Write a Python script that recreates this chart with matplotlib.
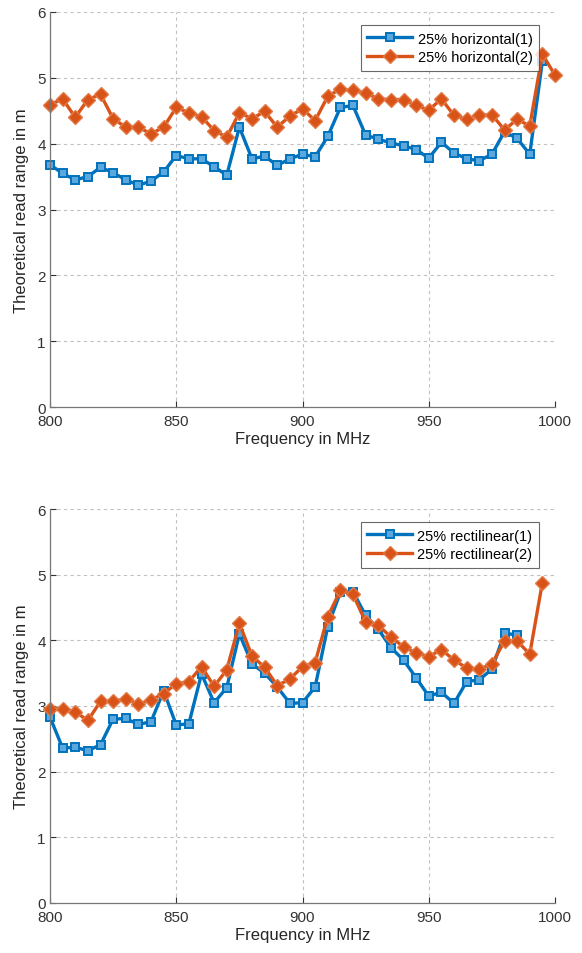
import numpy as np
import matplotlib
matplotlib.use("Agg")
import matplotlib.pyplot as plt

plt.rcParams['font.family'] = ['Liberation Sans', 'DejaVu Sans']

freq_top = list(range(800, 1001, 5))
h1 = [3.68, 3.55, 3.45, 3.50, 3.64, 3.56, 3.45, 3.37, 3.43, 3.57,
      3.82, 3.77, 3.77, 3.65, 3.52, 4.25, 3.77, 3.81, 3.67, 3.77,
      3.84, 3.80, 4.11, 4.55, 4.58, 4.13, 4.07, 4.01, 3.97, 3.91,
      3.78, 4.02, 3.86, 3.77, 3.74, 3.84, 4.18, 4.08, 3.84, 5.25]
h2 = [4.59, 4.68, 4.40, 4.67, 4.75, 4.38, 4.25, 4.25, 4.15, 4.25,
      4.55, 4.47, 4.41, 4.20, 4.10, 4.47, 4.38, 4.49, 4.25, 4.42,
      4.53, 4.35, 4.72, 4.83, 4.81, 4.77, 4.68, 4.67, 4.67, 4.58,
      4.51, 4.68, 4.43, 4.37, 4.43, 4.44, 4.21, 4.37, 4.27, 5.36, 5.04]

r1 = [2.83, 2.36, 2.37, 2.32, 2.41, 2.80, 2.81, 2.72, 2.76, 3.23,
      2.71, 2.73, 3.49, 3.05, 3.28, 4.10, 3.64, 3.50, 3.29, 3.04,
      3.05, 3.29, 4.21, 4.73, 4.74, 4.38, 4.17, 3.89, 3.70, 3.43,
      3.15, 3.21, 3.04, 3.37, 3.40, 3.56, 4.11, 4.08]
r2 = [2.96, 2.96, 2.91, 2.78, 3.07, 3.07, 3.11, 3.03, 3.09, 3.19,
      3.34, 3.37, 3.60, 3.30, 3.55, 4.26, 3.76, 3.59, 3.31, 3.41,
      3.60, 3.66, 4.36, 4.76, 4.70, 4.28, 4.23, 4.05, 3.90, 3.81,
      3.75, 3.86, 3.70, 3.58, 3.56, 3.64, 3.99, 3.99, 3.79, 4.88]

labels_top = ['25% horizontal(1)', '25% horizontal(2)']
labels_bot = ['25% rectilinear(1)', '25% rectilinear(2)']

blue = '#0072BD'
orange = '#D95319'

W, H = 582, 954
AXW = 505
fig = plt.figure(figsize=(W / 100, H / 100), dpi=100)
ax1 = fig.add_axes([50 / W, 1 - 408 / H, AXW / W, 395 / H])
ax2 = fig.add_axes([50 / W, 1 - 904 / H, AXW / W, 394 / H])


def style(ax, s1, s2, labels, h):
    f = np.array(freq_top)
    ax.plot(f[:len(s1)], s1, color=blue, lw=2.4, marker='s', ms=5.8,
            mfc='#5AA8DE', mec=blue, mew=1.4, label=labels[0], clip_on=False)
    ax.plot(f[:len(s2)], s2, color=orange, lw=2.4, marker='D', ms=7.2,
            mfc=orange, mec='#E27A48', mew=1.0, label=labels[1], clip_on=False)
    ax.set_xlim(800, 1000)
    ax.set_ylim(0, 6)
    ax.set_xticks([800, 850, 900, 950, 1000])
    ax.set_yticks([0, 1, 2, 3, 4, 5, 6])
    ax.grid(True, linestyle=(0, (3, 3)), color='#c0c0c0', lw=0.8)
    ax.set_axisbelow(True)
    for s in ['top', 'right']:
        ax.spines[s].set_visible(False)
    for s in ['left', 'bottom']:
        ax.spines[s].set_color('#777777')
        ax.spines[s].set_linewidth(0.9)
    ax.tick_params(direction='in', length=4, colors='#333333', labelsize=11,
                   pad=3)
    ax.tick_params(axis='x', pad=5)
    ax.set_xlabel('Frequency in MHz', fontsize=12, color='#262626', labelpad=2)
    ax.set_ylabel('Theoretical read range in m', fontsize=12, color='#262626',
                  labelpad=6)
    leg = ax.legend(loc='upper right',
                    bbox_to_anchor=((539 - 50) / AXW, 1 - 13 / h),
                    fontsize=10.5, frameon=True, fancybox=False,
                    handlelength=3.1, borderpad=0.45, labelspacing=0.3,
                    handletextpad=0.35, borderaxespad=0.0)
    leg.get_frame().set_edgecolor('#444444')
    leg.get_frame().set_linewidth(0.8)


style(ax1, h1, h2, labels_top, 395)
style(ax2, r1, r2, labels_bot, 394)

fig.savefig('out.png', dpi=100)
